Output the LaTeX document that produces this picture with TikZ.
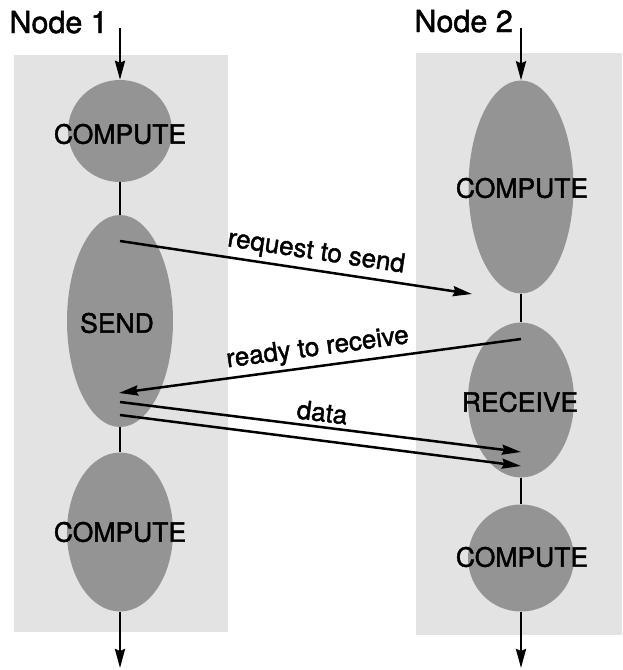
\documentclass[tikz,border=0pt]{standalone}
\usepackage{fontspec}
\setmainfont{TeX Gyre Heros}[FakeBold=1.6]
\usetikzlibrary{shapes.geometric,arrows.meta}
\begin{document}
\begin{tikzpicture}[x=1pt,y=-1pt,
  lane/.style={fill=black!11, draw=none},
  phase/.style={ellipse, fill=black!42, draw=none, inner sep=0pt},
  phaselabel/.style={font=\fontsize{26.5}{30}\selectfont, inner sep=0pt},
  flow/.style={line width=2.5pt},
  msg/.style={line width=2.5pt, -{Stealth[length=19pt,width=10pt,inset=2pt]}},
  msglabel/.style={font=\fontsize{26}{30}\selectfont, sloped, above, inner sep=4pt},
  lanetitle/.style={font=\fontsize{30.5}{34}\selectfont, inner sep=0pt, anchor=base east}]
\useasboundingbox (0,0) rectangle (622,670);

% background lanes of the two nodes
\fill[lane] (14,55) rectangle (228,632);
\fill[lane] (416,53) rectangle (622,635);

% phases of node 1
\node[phase, minimum width=104pt, minimum height=102pt] (c1) at (120,131) {};
\node[phase, minimum width=106pt, minimum height=212pt] (send) at (120,321) {};
\node[phase, minimum width=106pt, minimum height=159pt] (c3) at (120,532) {};
% phases of node 2
\node[phase, minimum width=105pt, minimum height=213pt] (c2) at (521,187) {};
\node[phase, minimum width=106pt, minimum height=155pt] (recv) at (521,400) {};
\node[phase, minimum width=106pt, minimum height=107pt] (c4) at (521,558) {};

\node[phaselabel] (t1) at (120,134) {COMPUTE};
\node[phaselabel] (t2) at (117,323) {SEND};
\node[phaselabel] (t3) at (120,532) {COMPUTE};
\node[phaselabel] (t4) at (522,188) {COMPUTE};
\node[phaselabel] (t5) at (520,402) {RECEIVE};
\node[phaselabel] (t6) at (522,557) {COMPUTE};

% lane titles and the time axis
\node[lanetitle] (h1) at (108,33) {Node 1};
\node[lanetitle] (h2) at (513,32) {Node 2};
\coordinate (in1) at (120,28);
\coordinate (in2) at (521,28);
\coordinate (out1) at (120,668);
\coordinate (out2) at (521,668);

\draw[msg] (in1) -- (c1.north);
\draw[flow] (c1.south) -- (send.north);
\draw[flow] (send.south) -- (c3.north);
\draw[msg] (c3.south) -- (out1);

\draw[msg] (in2) -- (c2.north);
\draw[flow] (c2.south) -- (recv.north);
\draw[flow] (recv.south) -- (c4.north);
\draw[msg] (c4.south) -- (out2);

% message end points
\coordinate (rtsA) at (120,241);
\coordinate (rtsB) at (472,294);
\coordinate (rtrA) at (521,339);
\coordinate (rtrB) at (119,393);
\coordinate (dataA1) at (120,402);
\coordinate (dataB1) at (521,452);
\coordinate (dataA2) at (120,415);
\coordinate (dataB2) at (521,466);

\draw[msg] (rtsA) -- node[msglabel, pos=0.55] {request to send} (rtsB);
\draw[msg] (rtrA) -- node[msglabel, pos=0.5] {ready to receive} (rtrB);
\draw[msg] (dataA1) -- node[msglabel, pos=0.5] {data} (dataB1);
\draw[msg] (dataA2) -- (dataB2);
\end{tikzpicture}
\end{document}
